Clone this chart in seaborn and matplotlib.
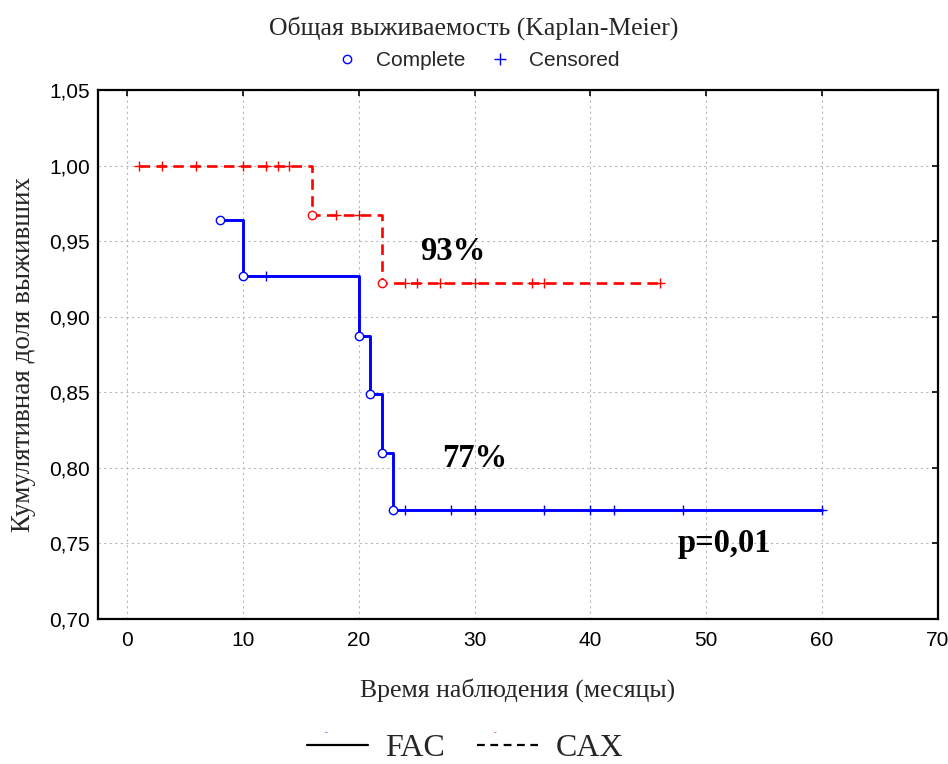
import numpy as np
import pandas as pd
import matplotlib
matplotlib.use("Agg")
import matplotlib.pyplot as plt
import seaborn as sns
from matplotlib.lines import Line2D
from matplotlib.ticker import FuncFormatter, MultipleLocator

# ---------------- data ----------------
fac_event_t = [8, 10, 20, 21, 22, 23]
fac_event_s = [0.964, 0.927, 0.887, 0.849, 0.810, 0.772]
fac_cens_t = [12, 24, 28, 30, 36, 40, 42, 48, 60]

cax_event_t = [16, 22]
cax_event_s = [0.967, 0.922]
cax_cens_t = [1, 3, 6, 10, 12, 13, 14, 18, 20, 24, 25, 27, 30, 35, 36, 46]

start_s = 1.0
group_labels = ["FAC", "CAX"]
annot_texts = ["93%", "77%", "p=0,01"]
annot_x = [28.1, 30.0, 51.6]
annot_y = [0.9376, 0.8007, 0.7444]


def surv_at(t, ev_t, ev_s):
    s = start_s
    for et, es in zip(ev_t, ev_s):
        if et <= t:
            s = es
    return s


def build(ev_t, ev_s, cens_t, name):
    rows = []
    for t, s in zip(ev_t, ev_s):
        rows.append({"t": t, "s": s, "kind": "Complete", "group": name})
    for t in cens_t:
        rows.append({"t": t, "s": surv_at(t, ev_t, ev_s), "kind": "Censored", "group": name})
    return pd.DataFrame(rows).sort_values("t").reset_index(drop=True)


fac = build(fac_event_t, fac_event_s, fac_cens_t, "FAC")
cax = build(cax_event_t, cax_event_s, cax_cens_t, "CAX")

# ---------------- style ----------------
sns.set_style("white")
plt.rcParams["font.family"] = ["Liberation Sans", "DejaVu Sans"]
SERIF = ["Liberation Serif", "DejaVu Serif"]
BLUE = "#0000ff"
RED = "#ff0000"

fig = plt.figure(figsize=(9.48, 7.64), dpi=100)
ax = fig.add_axes([98 / 948, 1 - 619 / 764, 840 / 948, 529 / 764])

# lines
sns.lineplot(data=fac, x="t", y="s", estimator=None, sort=True,
             drawstyle="steps-post", color=BLUE, linewidth=2.1, ax=ax, zorder=2)
sns.lineplot(data=cax, x="t", y="s", estimator=None, sort=True,
             drawstyle="steps-post", color=RED, linewidth=1.9,
             linestyle=(0, (4.0, 2.4)), ax=ax, zorder=2)

# markers
for df, col in [(fac, BLUE), (cax, RED)]:
    ev = df[df["kind"] == "Complete"]
    ce = df[df["kind"] == "Censored"]
    sns.scatterplot(data=ce, x="t", y="s", marker="+", s=60, color=col,
                    linewidth=1.0, ax=ax, zorder=3, legend=False)
    sns.scatterplot(data=ev, x="t", y="s", marker="o", s=36, facecolor="white",
                    edgecolor=col, linewidth=1.0, ax=ax, zorder=4, legend=False)

# annotations
for txt, x, y in zip(annot_texts, annot_x, annot_y):
    ax.text(x, y, txt, ha="center", va="baseline", fontsize=23.5,
            fontweight="bold", family=SERIF, color="black")

# axes
ax.set_xlim(-2.5, 70)
ax.set_ylim(0.70, 1.05)
ax.xaxis.set_major_locator(MultipleLocator(10))
ax.yaxis.set_major_locator(MultipleLocator(0.05))
ax.yaxis.set_major_formatter(FuncFormatter(lambda v, p: f"{v:.2f}".replace(".", ",")))
ax.grid(True, linestyle=(0, (2, 3)), color="#b8b8b8", linewidth=0.8)
ax.set_axisbelow(True)
for sp in ax.spines.values():
    sp.set_visible(True)
    sp.set_color("black")
    sp.set_linewidth(1.6)
ax.tick_params(direction="in", length=4, width=1.2, top=True, right=True,
               labelsize=15, colors="black")
ax.tick_params(axis="x", pad=9)
ax.tick_params(axis="y", pad=6)

ax.set_xlabel("Время наблюдения (месяцы)", fontsize=18.5, family=SERIF, labelpad=20)
ax.set_ylabel("Кумулятивная доля выживших", fontsize=19.5, family=SERIF, labelpad=9)

# title
fig.text(0.5, 1 - 28 / 764, "Общая выживаемость (Kaplan-Meier)", ha="center",
         va="center", fontsize=18.5, family=SERIF)

# top legend
top_handles = [
    Line2D([], [], ls="none", marker="o", mfc="white", mec=BLUE, ms=6, mew=1.0),
    Line2D([], [], ls="none", marker="+", color=BLUE, ms=9, mew=1.0),
]
fig.legend(top_handles, ["Complete", "Censored"], loc="center",
           bbox_to_anchor=(477 / 948, 1 - 61 / 764), ncol=2, frameon=False,
           prop={"family": ["Liberation Sans"], "size": 15},
           handlelength=1.2, handletextpad=0.75, columnspacing=1.1)

# bottom legend
bot_handles = [
    Line2D([], [], color="black", lw=1.6, ls="-"),
    Line2D([], [], color="black", lw=1.6, ls=(0, (3.5, 2.5))),
]
fig.legend(bot_handles, group_labels, loc="center",
           bbox_to_anchor=(465 / 948, 1 - 748 / 764), ncol=2, frameon=False,
           prop={"family": SERIF, "size": 23},
           handlelength=1.9, handletextpad=0.55, columnspacing=1.0)
fig.text(326 / 948, 1 - 733 / 764, "-", color=BLUE, fontsize=6, ha="center", va="center")
fig.text(495 / 948, 1 - 733 / 764, "-", color=RED, fontsize=6, ha="center", va="center")

fig.savefig("out.png", dpi=100)
